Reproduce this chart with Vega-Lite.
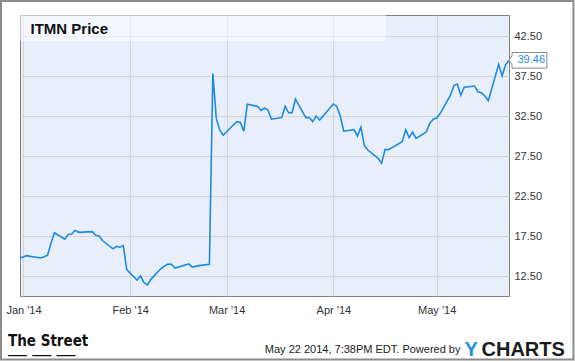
{
  "$schema": "https://vega.github.io/schema/vega-lite/v6.json",
  "width": 489,
  "height": 281,
  "autosize": {"type": "none"},
  "padding": {"left": 20, "top": 15, "right": 66, "bottom": 66},
  "background": "#ffffff",
  "title": {
    "text": "The Street",
    "subtitle": "— — —",
    "orient": "bottom",
    "anchor": "start",
    "frame": "group",
    "offset": -15,
    "dx": -12,
    "baseline": "alphabetic",
    "font": "Liberation Sans Narrow, DejaVu Sans Condensed, Liberation Sans",
    "fontSize": 15,
    "fontWeight": "bold",
    "color": "#111111",
    "subtitleFont": "Liberation Sans",
    "subtitleFontSize": 19,
    "subtitleColor": "#111111",
    "subtitlePadding": -1
  },
  "data": {
    "values": [
      {"date": "2013-12-31", "price": 14.75},
      {"date": "2014-01-02", "price": 15.04},
      {"date": "2014-01-03", "price": 14.95},
      {"date": "2014-01-06", "price": 14.75},
      {"date": "2014-01-07", "price": 14.9},
      {"date": "2014-01-08", "price": 15.1},
      {"date": "2014-01-09", "price": 16.6},
      {"date": "2014-01-10", "price": 17.9},
      {"date": "2014-01-13", "price": 17.1},
      {"date": "2014-01-14", "price": 17.7},
      {"date": "2014-01-15", "price": 17.75},
      {"date": "2014-01-16", "price": 18.2},
      {"date": "2014-01-17", "price": 17.96},
      {"date": "2014-01-21", "price": 18.04},
      {"date": "2014-01-22", "price": 17.6},
      {"date": "2014-01-23", "price": 17.5},
      {"date": "2014-01-24", "price": 16.9},
      {"date": "2014-01-27", "price": 15.9},
      {"date": "2014-01-28", "price": 16.2},
      {"date": "2014-01-29", "price": 16.1},
      {"date": "2014-01-30", "price": 16.3},
      {"date": "2014-01-31", "price": 13.3},
      {"date": "2014-02-03", "price": 12.0},
      {"date": "2014-02-04", "price": 12.5},
      {"date": "2014-02-05", "price": 11.67},
      {"date": "2014-02-06", "price": 11.38},
      {"date": "2014-02-07", "price": 12.08},
      {"date": "2014-02-10", "price": 13.46},
      {"date": "2014-02-11", "price": 13.75},
      {"date": "2014-02-12", "price": 14.0},
      {"date": "2014-02-13", "price": 13.96},
      {"date": "2014-02-14", "price": 13.5},
      {"date": "2014-02-18", "price": 14.0},
      {"date": "2014-02-19", "price": 13.6},
      {"date": "2014-02-20", "price": 13.7},
      {"date": "2014-02-21", "price": 13.8},
      {"date": "2014-02-24", "price": 13.96},
      {"date": "2014-02-25", "price": 37.8},
      {"date": "2014-02-26", "price": 32.2},
      {"date": "2014-02-27", "price": 30.75},
      {"date": "2014-02-28", "price": 30.1},
      {"date": "2014-03-03", "price": 31.4},
      {"date": "2014-03-04", "price": 31.8},
      {"date": "2014-03-05", "price": 31.7},
      {"date": "2014-03-06", "price": 30.6},
      {"date": "2014-03-07", "price": 33.96},
      {"date": "2014-03-10", "price": 33.7},
      {"date": "2014-03-11", "price": 33.2},
      {"date": "2014-03-12", "price": 33.5},
      {"date": "2014-03-13", "price": 33.25},
      {"date": "2014-03-14", "price": 32.1},
      {"date": "2014-03-17", "price": 32.3},
      {"date": "2014-03-18", "price": 33.7},
      {"date": "2014-03-19", "price": 32.9},
      {"date": "2014-03-20", "price": 32.9},
      {"date": "2014-03-21", "price": 34.6},
      {"date": "2014-03-24", "price": 32.3},
      {"date": "2014-03-25", "price": 32.3},
      {"date": "2014-03-26", "price": 31.8},
      {"date": "2014-03-27", "price": 32.5},
      {"date": "2014-03-28", "price": 32.0},
      {"date": "2014-03-31", "price": 33.5},
      {"date": "2014-04-01", "price": 34.0},
      {"date": "2014-04-02", "price": 33.7},
      {"date": "2014-04-03", "price": 32.5},
      {"date": "2014-04-04", "price": 30.6},
      {"date": "2014-04-07", "price": 30.8},
      {"date": "2014-04-08", "price": 30.0},
      {"date": "2014-04-09", "price": 31.1},
      {"date": "2014-04-10", "price": 28.8},
      {"date": "2014-04-11", "price": 28.25},
      {"date": "2014-04-14", "price": 27.2},
      {"date": "2014-04-15", "price": 26.6},
      {"date": "2014-04-16", "price": 28.3},
      {"date": "2014-04-17", "price": 28.3},
      {"date": "2014-04-21", "price": 29.3},
      {"date": "2014-04-22", "price": 30.8},
      {"date": "2014-04-23", "price": 29.8},
      {"date": "2014-04-24", "price": 30.5},
      {"date": "2014-04-25", "price": 29.7},
      {"date": "2014-04-28", "price": 30.5},
      {"date": "2014-04-29", "price": 31.6},
      {"date": "2014-04-30", "price": 32.1},
      {"date": "2014-05-01", "price": 32.25},
      {"date": "2014-05-02", "price": 32.8},
      {"date": "2014-05-05", "price": 35.1},
      {"date": "2014-05-06", "price": 36.3},
      {"date": "2014-05-07", "price": 36.5},
      {"date": "2014-05-08", "price": 35.1},
      {"date": "2014-05-09", "price": 36.1},
      {"date": "2014-05-12", "price": 36.25},
      {"date": "2014-05-13", "price": 35.5},
      {"date": "2014-05-14", "price": 35.4},
      {"date": "2014-05-15", "price": 35.0},
      {"date": "2014-05-16", "price": 34.4},
      {"date": "2014-05-19", "price": 38.96},
      {"date": "2014-05-20", "price": 37.5},
      {"date": "2014-05-21", "price": 38.9},
      {"date": "2014-05-22", "price": 39.46}
    ]
  },
  "resolve": {"axis": {"x": "independent", "y": "independent"}},
  "layer": [
    {
      "data": {"values": [{}]},
      "mark": {"type": "rect", "fill": "#ffffff", "fillOpacity": 0, "stroke": "#8c8c8c", "strokeWidth": 2},
      "encoding": {
        "x": {"datum": {"year": 2013, "month": 12, "date": 25, "hours": 11, "minutes": 35, "utc": true}, "type": "temporal", "axis": null,
              "scale": {"type": "utc", "domain": [{"year": 2013, "month": 12, "date": 31, "utc": true}, {"year": 2014, "month": 5, "date": 22, "utc": true}], "nice": false}},
        "x2": {"datum": {"year": 2014, "month": 6, "date": 9, "hours": 17, "minutes": 30, "utc": true}},
        "y": {"datum": 46.875, "type": "quantitative", "axis": null, "scale": {"domain": [10, 45.125], "nice": false, "zero": false}},
        "y2": {"datum": 2.0625}
      }
    },
    {
      "data": {"values": [{}]},
      "mark": {"type": "rect", "fill": "#ffffff", "opacity": 0.5},
      "encoding": {
        "x": {"datum": {"year": 2013, "month": 12, "date": 31, "utc": true}, "type": "temporal", "axis": null,
              "scale": {"type": "utc", "domain": [{"year": 2013, "month": 12, "date": 31, "utc": true}, {"year": 2014, "month": 5, "date": 22, "utc": true}], "nice": false}},
        "x2": {"datum": {"year": 2014, "month": 4, "date": 16, "hours": 6, "minutes": 45, "utc": true}},
        "y": {"datum": 41.875, "type": "quantitative", "axis": null, "scale": {"domain": [10, 45.125], "nice": false, "zero": false}},
        "y2": {"datum": 45.125}
      }
    },
    {
      "mark": {"type": "line", "color": "#1a8ae5", "strokeWidth": 1.6},
      "encoding": {
        "x": {
          "field": "date", "type": "temporal",
          "scale": {"type": "utc", "domain": [{"year": 2013, "month": 12, "date": 31, "utc": true}, {"year": 2014, "month": 5, "date": 22, "utc": true}], "nice": false},
          "axis": {
            "orient": "bottom",
            "values": [
              {"year": 2014, "month": 1, "date": 1, "utc": true},
              {"year": 2014, "month": 2, "date": 1, "utc": true},
              {"year": 2014, "month": 3, "date": 1, "utc": true},
              {"year": 2014, "month": 4, "date": 1, "utc": true},
              {"year": 2014, "month": 5, "date": 1, "utc": true}
            ],
            "labelExpr": "utcFormat(datum.value, \"%b '%y\")",
            "labelPadding": 8,
            "labelAlign": "center",
            "labelBaseline": "top",
            "grid": true,
            "title": "May 22 2014, 7:38PM EDT.  Powered by",
            "titleX": 440,
            "titleY": 56,
            "titleAlign": "right",
            "titleAnchor": null,
            "titleBaseline": "alphabetic",
            "titleFontSize": 11,
            "titleFontWeight": "normal",
            "titleColor": "#222222"
          }
        },
        "y": {
          "field": "price", "type": "quantitative",
          "scale": {"domain": [10, 45.125], "nice": false, "zero": false},
          "axis": {
            "orient": "right",
            "values": [12.5, 17.5, 22.5, 27.5, 32.5, 37.5, 42.5],
            "format": ".2f",
            "labelPadding": 5,
            "grid": false,
            "zindex": 1,
            "title": "ITMN Price",
            "titleX": -479,
            "titleY": 18.5,
            "titleAngle": 0,
            "titleAlign": "left",
            "titleAnchor": null,
            "titleBaseline": "alphabetic",
            "titleFontSize": 15,
            "titleFontWeight": "bold",
            "titleColor": "#111111"
          }
        }
      }
    },
    {
      "transform": [{"filter": "datum.price === 39.46"}],
      "mark": {"type": "point", "shape": "M0,0L0.15,-0.22L0.15,-0.39L1.89,-0.39L1.89,0.39L0.15,0.39L0.15,0.22Z", "size": 1600, "filled": true, "fill": "#ffffff", "stroke": "#8a8a8a", "strokeWidth": 1, "opacity": 1},
      "encoding": {
        "x": {
          "field": "date", "type": "temporal",
          "scale": {"type": "utc", "domain": [{"year": 2013, "month": 12, "date": 31, "utc": true}, {"year": 2014, "month": 5, "date": 22, "utc": true}], "nice": false},
          "axis": {
            "orient": "top", "labels": false, "ticks": false, "domain": false, "grid": false,
            "title": "CHARTS", "titleX": 461, "titleY": 340, "titleAlign": "left", "titleAnchor": null,
            "titleBaseline": "alphabetic", "titleFontSize": 20, "titleFontWeight": "bold", "titleColor": "#1b1b1b", "titleAngle": 0
          }
        },
        "y": {
          "field": "price", "type": "quantitative",
          "scale": {"domain": [10, 45.125], "nice": false, "zero": false},
          "axis": {
            "orient": "left", "labels": false, "ticks": false, "domain": false,
            "grid": true, "zindex": 0,
            "values": [12.5, 17.5, 22.5, 27.5, 32.5, 37.5, 42.5],
            "title": "Y", "titleX": 444, "titleY": 340, "titleAlign": "left", "titleAnchor": null,
            "titleBaseline": "alphabetic", "titleFontSize": 20, "titleFontWeight": "bold", "titleColor": "#1a8fe3", "titleAngle": 0
          }
        }
      }
    },
    {
      "transform": [{"filter": "datum.price === 39.46"}],
      "mark": {"type": "text", "align": "left", "baseline": "middle", "dx": 8.5, "fontSize": 11, "color": "#2a8ae0"},
      "encoding": {
        "x": {"field": "date", "type": "temporal", "axis": null,
              "scale": {"type": "utc", "domain": [{"year": 2013, "month": 12, "date": 31, "utc": true}, {"year": 2014, "month": 5, "date": 22, "utc": true}], "nice": false}},
        "y": {"field": "price", "type": "quantitative", "axis": null, "scale": {"domain": [10, 45.125], "nice": false, "zero": false}},
        "text": {"field": "price", "type": "quantitative", "format": ".2f"}
      }
    }
  ],
  "config": {
    "view": {"fill": "#e9effa", "stroke": "#7f7f7f", "strokeWidth": 1},
    "axis": {
      "labelFont": "Liberation Sans",
      "labelFontSize": 11,
      "labelColor": "#333333",
      "titleFont": "Liberation Sans",
      "gridColor": "#d4d4d4",
      "gridOpacity": 1,
      "gridWidth": 1,
      "ticks": false,
      "domain": false
    },
    "text": {"font": "Liberation Sans"}
  }
}
